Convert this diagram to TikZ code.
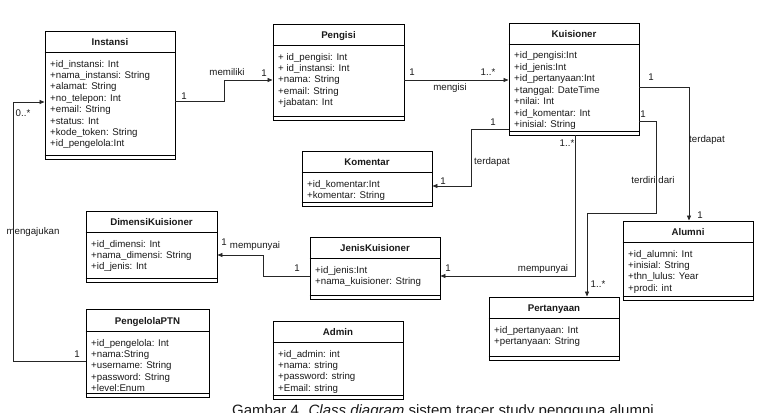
\documentclass[tikz,border=0pt]{standalone}
\usepackage{fontspec}
\setmainfont{Liberation Sans}
\usetikzlibrary{arrows.meta}

\begin{document}
\begin{tikzpicture}[
    x=1pt, y=-1pt,
    every node/.style={font=\fontsize{9.7}{11.4}\selectfont, text=black!90},
    classbox/.style={draw=black, line width=0.9pt, inner sep=0pt},
    classline/.style={draw=black, line width=0.9pt},
    classtitle/.style={anchor=base, inner sep=0pt, font=\fontsize{9.7}{11.4}\selectfont\bfseries},
    attr/.style={anchor=base west, inner sep=0pt},
    mult/.style={inner sep=0pt},
    assoc/.style={draw=black!85, line width=0.8pt, -{Triangle[length=5pt,width=4pt]}},
]

\useasboundingbox (0,0) rectangle (762,412);
\clip (0,0) rectangle (762,412);

% Instansi
\node[classbox, minimum width=130pt, minimum height=128pt] (instansi) at (110,95) {};
\node[classtitle] (instansi-t) at (110,45.5) {Instansi};
\draw[classline] (instansi.west |- 0,52) -- (instansi.east |- 0,52);
\draw[classline] (instansi.west |- 0,155) -- (instansi.east |- 0,155);
\foreach \t [count=\i] in {+id\_instansi: Int,+nama\_instansi: String,+alamat: String,+no\_telepon: Int,+email: String,+status: Int,+kode\_token: String,+id\_pengelola:Int}
  \node[attr] (instansi-a\i) at (50,55.6+11.4*\i) {\t};

% Pengisi
\node[classbox, minimum width=131pt, minimum height=96pt] (pengisi) at (338.5,72) {};
\node[classtitle] (pengisi-t) at (338.5,38.5) {Pengisi};
\draw[classline] (pengisi.west |- 0,45) -- (pengisi.east |- 0,45);
\draw[classline] (pengisi.west |- 0,116) -- (pengisi.east |- 0,116);
\foreach \t [count=\i] in {+ id\_pengisi: Int,+ id\_instansi: Int,+nama: String,+email: String,+jabatan: Int}
  \node[attr] (pengisi-a\i) at (278,48.6+11.4*\i) {\t};

% Kuisioner
\node[classbox, minimum width=130pt, minimum height=112pt] (kuisioner) at (574,79) {};
\node[classtitle] (kuisioner-t) at (574,37.5) {Kuisioner};
\draw[classline] (kuisioner.west |- 0,44) -- (kuisioner.east |- 0,44);
\draw[classline] (kuisioner.west |- 0,131) -- (kuisioner.east |- 0,131);
\foreach \t [count=\i] in {+id\_pengisi:Int,+id\_jenis:Int,+id\_pertanyaan:Int,+tanggal: DateTime,+nilai: Int,+id\_komentar: Int,+inisial: String}
  \node[attr] (kuisioner-a\i) at (514,47.6+11.4*\i) {\t};

% Komentar
\node[classbox, minimum width=130pt, minimum height=55pt] (komentar) at (367,178.5) {};
\node[classtitle] (komentar-t) at (367,165.5) {Komentar};
\draw[classline] (komentar.west |- 0,172) -- (komentar.east |- 0,172);
\draw[classline] (komentar.west |- 0,202.5) -- (komentar.east |- 0,202.5);
\foreach \t [count=\i] in {+id\_komentar:Int,+komentar: String}
  \node[attr] (komentar-a\i) at (307,175.6+11.4*\i) {\t};

% DimensiKuisioner
\node[classbox, minimum width=131pt, minimum height=71pt] (dimensi) at (151.5,246.5) {};
\node[classtitle] (dimensi-t) at (151.5,225.5) {DimensiKuisioner};
\draw[classline] (dimensi.west |- 0,232) -- (dimensi.east |- 0,232);
\draw[classline] (dimensi.west |- 0,278) -- (dimensi.east |- 0,278);
\foreach \t [count=\i] in {+id\_dimensi: Int,+nama\_dimensi: String,+id\_jenis: Int}
  \node[attr] (dimensi-a\i) at (91,235.6+11.4*\i) {\t};

% PengelolaPTN
\node[classbox, minimum width=123pt, minimum height=88pt] (pengelola) at (147.5,353) {};
\node[classtitle] (pengelola-t) at (147.5,324.5) {PengelolaPTN};
\draw[classline] (pengelola.west |- 0,331) -- (pengelola.east |- 0,331);
\draw[classline] (pengelola.west |- 0,393) -- (pengelola.east |- 0,393);
\foreach \t [count=\i] in {+id\_pengelola: Int,+nama:String,+username: String,+password: String,+level:Enum}
  \node[attr] (pengelola-a\i) at (91,334.6+11.4*\i) {\t};

% JenisKuisioner
\node[classbox, minimum width=130pt, minimum height=62pt] (jenis) at (375,268) {};
\node[classtitle] (jenis-t) at (375,251.5) {JenisKuisioner};
\draw[classline] (jenis.west |- 0,258) -- (jenis.east |- 0,258);
\draw[classline] (jenis.west |- 0,295.5) -- (jenis.east |- 0,295.5);
\foreach \t [count=\i] in {+id\_jenis:Int,+nama\_kuisioner: String}
  \node[attr] (jenis-a\i) at (315,261.6+11.4*\i) {\t};

% Admin
\node[classbox, minimum width=130pt, minimum height=78pt] (admin) at (338,360) {};
\node[classtitle] (admin-t) at (338,335.5) {Admin};
\draw[classline] (admin.west |- 0,342) -- (admin.east |- 0,342);
\draw[classline] (admin.west |- 0,395) -- (admin.east |- 0,395);
\foreach \t [count=\i] in {+id\_admin: int,+nama: string,+password: string,+Email: string}
  \node[attr] (admin-a\i) at (278,345.6+11.4*\i) {\t};

% Pertanyaan
\node[classbox, minimum width=130pt, minimum height=63pt] (pertanyaan) at (554,328.5) {};
\node[classtitle] (pertanyaan-t) at (554,311.5) {Pertanyaan};
\draw[classline] (pertanyaan.west |- 0,318) -- (pertanyaan.east |- 0,318);
\draw[classline] (pertanyaan.west |- 0,356.5) -- (pertanyaan.east |- 0,356.5);
\foreach \t [count=\i] in {+id\_pertanyaan: Int,+pertanyaan: String}
  \node[attr] (pertanyaan-a\i) at (494,321.6+11.4*\i) {\t};

% Alumni
\node[classbox, minimum width=130pt, minimum height=79pt] (alumni) at (688,260.5) {};
\node[classtitle] (alumni-t) at (688,235.5) {Alumni};
\draw[classline] (alumni.west |- 0,242) -- (alumni.east |- 0,242);
\draw[classline] (alumni.west |- 0,296.5) -- (alumni.east |- 0,296.5);
\foreach \t [count=\i] in {+id\_alumni: Int,+inisial: String,+thn\_lulus: Year,+prodi: int}
  \node[attr] (alumni-a\i) at (628,245.6+11.4*\i) {\t};

% Associations
% Instansi -> Pengisi
\draw[assoc] (instansi.east |- 0,101) -| (224,80) -- (pengisi.west |- 0,80);
\node[mult] (memiliki-1a) at (184,96) {1};
\node[mult] (memiliki) at (227,72) {memiliki};
\node[mult] (memiliki-1b) at (264,73) {1};

% Pengisi -> Kuisioner
\draw[assoc] (pengisi.east |- 0,80) -- (kuisioner.west |- 0,80);
\node[mult] (mengisi-1) at (412,72) {1};
\node[mult] (mengisi-n) at (488,72) {1..*};
\node[mult] (mengisi) at (450,88) {mengisi};

% Kuisioner -> Komentar
\draw[assoc] (kuisioner.west |- 0,129) -| (471,186) -- (komentar.east |- 0,186);
\node[mult] (terdapat-k1a) at (493,122) {1};
\node[mult] (terdapat-k) at (492,162) {terdapat};
\node[mult] (terdapat-k1b) at (443,181) {1};

% Kuisioner -> Alumni
\draw[assoc] (kuisioner.east |- 0,87) -| (alumni.north -| 689,0);
\node[mult] (terdapat-a1a) at (651,77) {1};
\node[mult] (terdapat-a) at (707,140) {terdapat};
\node[mult] (terdapat-a1b) at (700,215) {1};

% Kuisioner -> Pertanyaan
\draw[assoc] (kuisioner.east |- 0,121) -| (656,213) -| (pertanyaan.north -| 587,0);
\node[mult] (terdiri-1) at (643,114) {1};
\node[mult] (terdiri) at (653,180) {terdiri dari};
\node[mult] (terdiri-n) at (598,284) {1..*};

% Kuisioner -> JenisKuisioner
\draw[assoc] (kuisioner.south -| 575,0) |- (jenis.east |- 0,276);
\node[mult] (mempunyai-jn) at (567,143) {1..*};
\node[mult] (mempunyai-j1) at (448,268) {1};
\node[mult] (mempunyai-j) at (543,269) {mempunyai};

% JenisKuisioner -> DimensiKuisioner
\draw[assoc] (jenis.west |- 0,276) -| (263,255) -- (dimensi.east |- 0,255);
\node[mult] (mempunyai-d1a) at (224,242) {1};
\node[mult] (mempunyai-d) at (255,246) {mempunyai};
\node[mult] (mempunyai-d1b) at (297,268) {1};

% PengelolaPTN -> Instansi
\draw[assoc] (pengelola.west |- 0,361) -| (13,102) -- (instansi.west |- 0,102);
\node[mult] (mengajukan-n) at (23,113) {0..*};
\node[mult] (mengajukan) at (33,232) {mengajukan};
\node[mult] (mengajukan-1) at (77,354) {1};

% Caption (cut off at the lower edge)
\node[anchor=base west, inner sep=0pt, font=\fontsize{15}{18}\selectfont] (caption) at (232,415)
  {Gambar 4. \textit{Class diagram} sistem tracer study pengguna alumni};

\end{tikzpicture}
\end{document}
